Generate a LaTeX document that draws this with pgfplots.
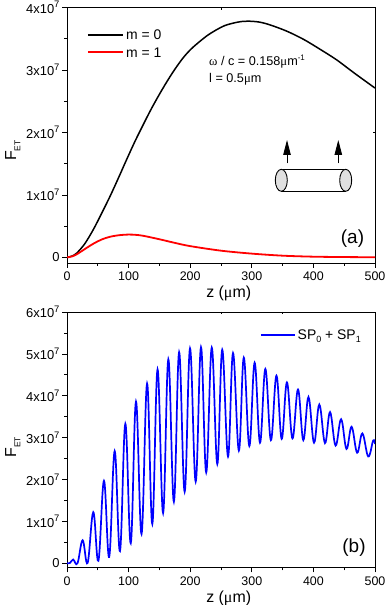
\documentclass[border=0pt]{standalone}
\usepackage{fontspec}
\setmainfont{Liberation Sans}
\newfontfamily\symb{Liberation Serif}
\usepackage{pgfplots}
\pgfplotsset{compat=1.18}
\usetikzlibrary{arrows.meta}

\newcommand{\tensev}[1]{#1x10\raisebox{0.42em}{\fontsize{9.5}{9.5}\selectfont 7}}
\newcommand{\fet}{F\raisebox{-0.28em}{\fontsize{8.5}{8.5}\selectfont ET}}

\pgfplotstableread{
z val
0 0
8 0.02
16 0.07
29 0.22
43 0.45
56 0.70
70 0.98
83 1.26
97 1.57
110 1.85
124 2.13
137 2.38
150 2.61
162 2.81
175 3.01
189 3.20
202 3.34
216 3.46
229 3.56
243 3.645
256 3.71
270 3.75
283 3.775
297 3.78
313 3.765
330 3.72
357 3.62
384 3.49
411 3.33
438 3.16
465 2.96
500 2.71
}\blackdata

\pgfplotstableread{
z val
0 0
8 0.015
16 0.05
30 0.14
43 0.22
56 0.285
70 0.33
85 0.355
100 0.365
112 0.36
124 0.345
150 0.29
175 0.232
200 0.18
250 0.107
300 0.06
350 0.027
400 0.011
450 0.005
500 0.002
}\reddata

\pgfplotstableread{
z val
0 0
5 0.01
10 0.09
17 0.0
25.4 0.55
33.5 0.01
42.7 1.22
51 0.06
60 1.97
68.5 0.15
77.4 2.68
86 0.29
94.7 3.33
103.5 0.48
112 3.86
121 0.70
130 4.29
138.5 0.94
147 4.63
156 1.20
164.5 4.87
173.5 1.47
182 5.04
191 1.71
199.7 5.13
208.9 1.95
217.5 5.16
226 2.17
235 5.15
244 2.37
252 5.10
261.4 2.55
269.5 5.02
279 2.69
287 4.91
296 2.80
304.6 4.79
313.3 2.88
322 4.64
331 2.94
340 4.48
348.5 2.97
357 4.32
366 2.98
375 4.15
383.6 2.94
392 3.97
401 2.88
409.6 3.79
418.8 2.87
427 3.61
436 2.81
445 3.44
453.7 2.73
462 3.26
471 2.64
479.5 3.10
489 2.55
497 2.93
500 2.85
}\bluedata

\pgfplotsset{
  frame/.style={
    scale only axis, width=308bp, height=255.5bp, xmin=0, xmax=500,
  },
  panel/.style={
    frame,
    xtick={0,100,...,500}, minor x tick num=1,
    tick align=outside, tick pos=left,
    axis line style={line width=0.8bp},
    tick style={black, line width=0.7bp},
    major tick length=5bp, minor tick length=3bp,
    xticklabel style={font=\fontsize{12.5}{14}\selectfont, yshift=-0.5bp},
    yticklabel style={font=\fontsize{13}{14}\selectfont, xshift=1bp},
    xlabel={z ({\symb μ}m)},
    ylabel={\fet},
    xlabel style={font=\fontsize{16}{16}\selectfont, at={(axis description cs:0.525,0)}, anchor=north, yshift=-19.5bp},
    ylabel style={font=\fontsize{16}{16}\selectfont, anchor=south, yshift=43bp},
    /pgf/number format/assume math mode=true,
    legend cell align=left,
    legend image code/.code={\draw[#1] (0,0) -- (34bp,0);},
    legend style={draw=none, fill=none, font=\fontsize{14}{15}\selectfont, inner sep=0pt},
  },
  mirror/.style={
    frame, axis line style={draw=none},
    xticklabels={}, yticklabels={},
    tick align=inside, xtick pos=right, ytick pos=right,
    tick style={black, line width=0.6bp}, major tick length=2.5bp,
  },
}

\begin{document}
\begin{tikzpicture}[x=1bp,y=1bp]
\useasboundingbox (0,0) rectangle (386,605);
\begin{axis}[panel, at={(67bp,342bp)}, anchor=south west,
  ymin=-0.09, ymax=4, ytick={0,1,2,3,4}, minor y tick num=1,
  yticklabels={0,\tensev{1},\tensev{2},\tensev{3},\tensev{4}},
  ylabel style={at={(rel axis cs:0,0.44)}}]
\addplot[black, line width=1.5bp, smooth] table[x=z,y=val] {\blackdata};
\addplot[red, line width=1.8bp, smooth] table[x=z,y=val] {\reddata};
% legend keys
\addplot[black, line width=1.5bp] coordinates {(34,3.561) (90.4,3.561)};
\addplot[red, line width=1.8bp] coordinates {(34,3.282) (90.4,3.282)};
\node[anchor=west, inner sep=0pt, font=\fontsize{14}{15}\selectfont] at (axis cs:95.8,3.561) {m = 0};
\node[anchor=west, inner sep=0pt, font=\fontsize{14}{15}\selectfont] at (axis cs:95.8,3.282) {m = 1};
\end{axis}
\begin{axis}[mirror, at={(67bp,342bp)}, anchor=south west,
  ymin=-0.09, ymax=4, xtick={250}, ytick={2}]
\end{axis}
\begin{axis}[panel, at={(67bp,37.5bp)}, anchor=south west,
  ymin=-0.1, ymax=6, ytick={0,1,...,6}, minor y tick num=1,
  yticklabels={0,\tensev{1},\tensev{2},\tensev{3},\tensev{4},\tensev{5},\tensev{6}},
  ylabel style={at={(rel axis cs:0,0.47)}},
  legend style={at={(axis cs:313,5.64)}, anchor=north west}]
\addplot[blue, line width=1.7bp, smooth, tension=0.65] table[x=z,y=val] {\bluedata};
\legend{SP\raisebox{-0.28em}{\fontsize{9}{9}\selectfont 0} + SP\raisebox{-0.28em}{\fontsize{9}{9}\selectfont 1}}
\end{axis}
\begin{axis}[mirror, at={(67bp,37.5bp)}, anchor=south west,
  ymin=-0.1, ymax=6, xtick={250,350}, ytick=\empty]
\end{axis}

% annotations, in picture pixels measured from the bottom left
\node[anchor=base west, inner sep=0pt, font=\fontsize{12.7}{14}\selectfont] at (209,539.5) {{\symb ω} / c = 0.158{\symb μ}m\raisebox{0.42em}{\fontsize{8}{8}\selectfont -1}};
\node[anchor=base west, inner sep=0pt, font=\fontsize{12.7}{14}\selectfont] at (209,522) {l = 0.5{\symb μ}m};
\node[anchor=center, inner sep=0pt, font=\fontsize{19}{21}\selectfont] at (352.5,366) {(a)};
\node[anchor=center, inner sep=0pt, font=\fontsize{19}{21}\selectfont] at (354,57) {(b)};

% nanowire sketch
\draw[line width=0.9bp] (281.3,435.7) -- (345.7,435.7) (281.3,414) -- (345.7,414);
\draw[line width=0.9bp, fill=black!12] (281.3,424.7) ellipse [x radius=6, y radius=11];
\draw[line width=0.9bp, fill=black!12] (345.7,424.7) ellipse [x radius=6, y radius=11];
\draw[line width=0.9bp, -{Triangle[length=15bp, width=7.5bp]}] (287,441.7) -- (287,465);
\draw[line width=0.9bp, -{Triangle[length=15bp, width=7.5bp]}] (338.3,441.7) -- (338.3,465);
\end{tikzpicture}
\end{document}
